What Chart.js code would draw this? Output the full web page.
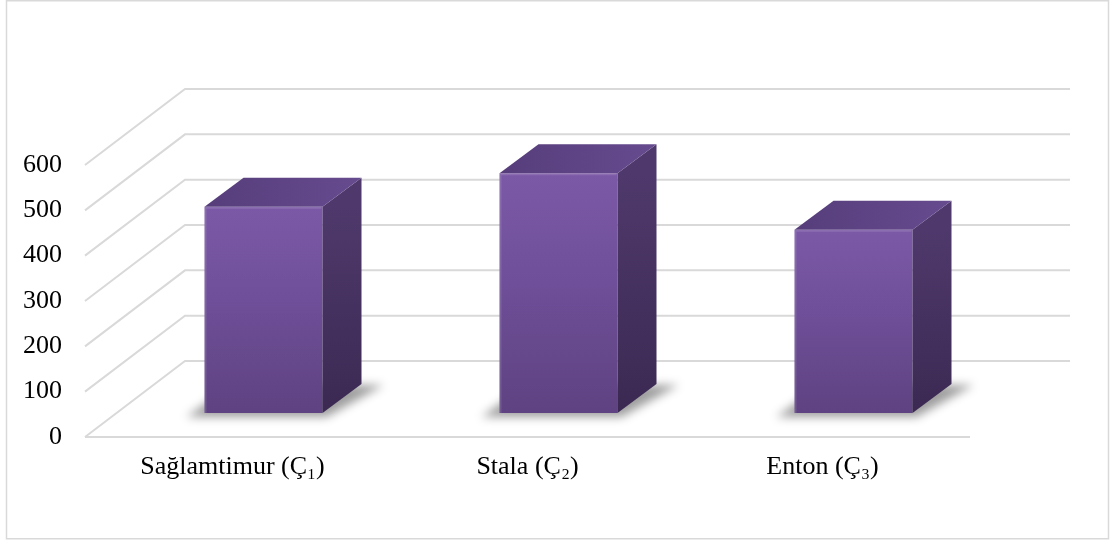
<!DOCTYPE html>
<html>
<head>
<meta charset="utf-8">
<title>Çanak çömlek</title>
<script src="https://cdn.jsdelivr.net/npm/chart.js@4.4.1/dist/chart.umd.min.js"></script>
<style>
  html, body { margin: 0; padding: 0; background: #fff; }
  canvas { display: block; }
</style>
</head>
<body>
<canvas id="chart" width="1115" height="543"></canvas>
<script>
const categories = ['Sağlamtimur (Ç₁)', 'Stala (Ç₂)', 'Enton (Ç₃)'];
const values = [455, 529, 404];
const yMax = 600;
const yStep = 100;

// floor depth, where the columns stand on it, and how deep they are
const FLOOR_DEPTH = { x: 100, y: -76 };
const BAR_FRONT = { x: 31, y: -24 };
const BAR_DEPTH = { x: 39, y: -29 };
const GRID = '#d9d9d9';
const FONT = "'Liberation Serif', 'Times New Roman', serif";

function frontColor(c) {
  const chart = c.chart;
  const y = chart.scales.y;
  if (!y || c.raw == null) return '#6c4d95';
  const top = y.getPixelForValue(c.raw);
  const bottom = y.getPixelForValue(0);
  if (!isFinite(top) || !isFinite(bottom) || top === bottom) return '#6c4d95';
  const g = chart.ctx.createLinearGradient(0, top, 0, bottom);
  g.addColorStop(0, '#7c59a7');
  g.addColorStop(0.45, '#6f4f99');
  g.addColorStop(1, '#5e4281');
  return g;
}

const cube = {
  id: 'cube',
  beforeDraw(chart) {
    const ctx = chart.ctx;
    ctx.save();
    ctx.strokeStyle = GRID;
    ctx.lineWidth = 1.5;
    ctx.strokeRect(6.5, 0.75, 1102, 538);
    ctx.restore();
  },
  beforeDatasetsDraw(chart) {
    const { ctx, chartArea: a, scales: { y } } = chart;
    ctx.save();
    // side wall + back wall gridlines
    ctx.strokeStyle = GRID;
    ctx.lineWidth = 2;
    ctx.beginPath();
    y.ticks.forEach(t => {
      const py = y.getPixelForValue(t.value);
      ctx.moveTo(a.left, py);
      ctx.lineTo(a.left + FLOOR_DEPTH.x, py + FLOOR_DEPTH.y);
      ctx.lineTo(a.right + FLOOR_DEPTH.x, py + FLOOR_DEPTH.y);
    });
    const p0 = y.getPixelForValue(0);
    ctx.moveTo(a.left, p0);
    ctx.lineTo(a.right, p0);
    ctx.stroke();

    // soft shadow on the floor under each column
    ctx.filter = 'blur(5px)';
    ctx.fillStyle = 'rgba(0,0,0,0.38)';
    chart.getDatasetMeta(0).data.forEach(bar => {
      const L = bar.x - bar.width / 2 + BAR_FRONT.x;
      const R = L + bar.width;
      const B = bar.base + BAR_FRONT.y;
      ctx.beginPath();
      ctx.moveTo(L - 18, B + 4);
      ctx.lineTo(R + 4, B + 4);
      ctx.lineTo(R + BAR_DEPTH.x + 22, B + BAR_DEPTH.y + 1);
      ctx.lineTo(L + BAR_DEPTH.x - 12, B + BAR_DEPTH.y + 1);
      ctx.closePath();
      ctx.fill();
    });
    ctx.restore();

    ctx.save();
    ctx.translate(BAR_FRONT.x, BAR_FRONT.y);
  },
  afterDatasetsDraw(chart) {
    const ctx = chart.ctx;
    const dx = BAR_DEPTH.x, dy = BAR_DEPTH.y;
    chart.getDatasetMeta(0).data.forEach(bar => {
      const L = bar.x - bar.width / 2, R = bar.x + bar.width / 2;
      const T = bar.y, B = bar.base;

      let g = ctx.createLinearGradient(0, T, 0, B);
      g.addColorStop(0, '#4f396c');
      g.addColorStop(1, '#3b2952');
      ctx.fillStyle = g;
      ctx.beginPath();
      ctx.moveTo(R, T);
      ctx.lineTo(R + dx, T + dy);
      ctx.lineTo(R + dx, B + dy);
      ctx.lineTo(R, B);
      ctx.closePath();
      ctx.fill();

      g = ctx.createLinearGradient(L, 0, R + dx, 0);
      g.addColorStop(0, '#563d7a');
      g.addColorStop(1, '#664b8f');
      ctx.fillStyle = g;
      ctx.beginPath();
      ctx.moveTo(L, T);
      ctx.lineTo(L + dx, T + dy);
      ctx.lineTo(R + dx, T + dy);
      ctx.lineTo(R, T);
      ctx.closePath();
      ctx.fill();

      // faint highlight along the front edges
      ctx.strokeStyle = 'rgba(255,255,255,0.12)';
      ctx.lineWidth = 2;
      ctx.beginPath();
      ctx.moveTo(L + 1, B);
      ctx.lineTo(L + 1, T + 1);
      ctx.lineTo(R - 1, T + 1);
      ctx.stroke();
    });
    ctx.restore();
  }
};

new Chart(document.getElementById('chart'), {
  type: 'bar',
  data: {
    labels: categories,
    datasets: [{
      data: values,
      backgroundColor: frontColor,
      borderWidth: 0,
      barPercentage: 0.4,
      categoryPercentage: 1,
      clip: false
    }]
  },
  options: {
    responsive: false,
    animation: false,
    layout: { padding: { left: 23, top: 165, right: 145, bottom: 0 } },
    plugins: { legend: { display: false }, tooltip: { enabled: false } },
    scales: {
      x: {
        grid: { display: false, drawTicks: false, tickLength: 0 },
        border: { display: false },
        ticks: { color: '#000', padding: 15, font: { family: FONT, size: 26 }, maxRotation: 0 },
        afterFit(s) { s.height = 106; }
      },
      y: {
        min: 0,
        max: yMax,
        grid: { display: false, drawTicks: false, tickLength: 0 },
        border: { display: false },
        ticks: { stepSize: yStep, color: '#000', padding: 23, font: { family: FONT, size: 26 } },
        afterFit(s) { s.width = 62; }
      }
    }
  },
  plugins: [cube]
});
</script>
</body>
</html>
